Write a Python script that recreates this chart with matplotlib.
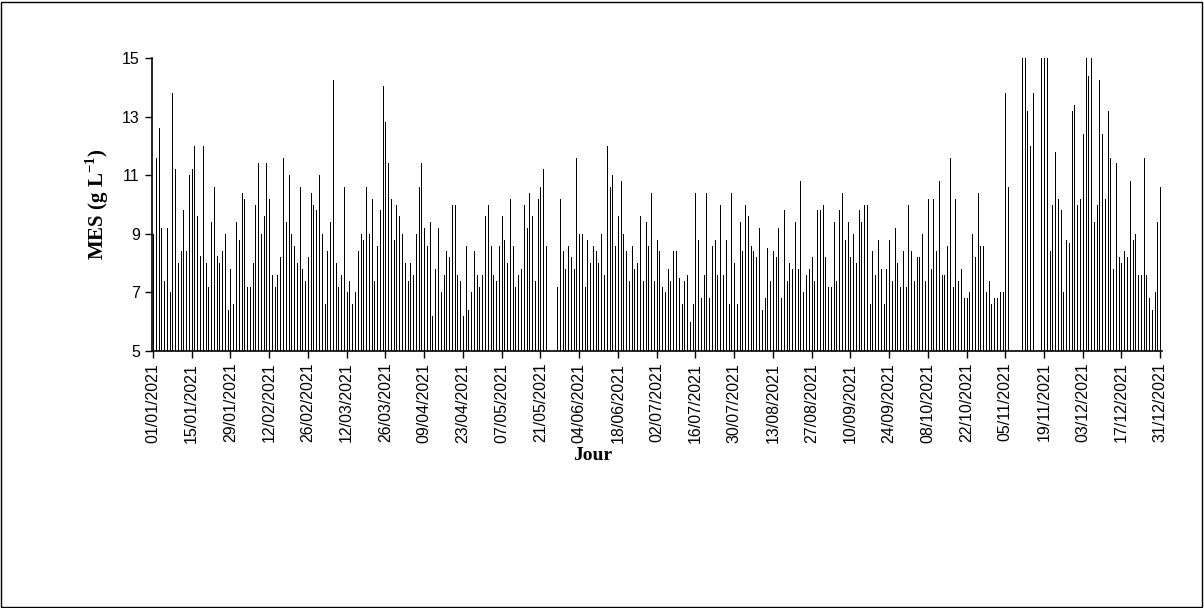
import matplotlib
matplotlib.use('Agg')
import matplotlib.pyplot as plt
import matplotlib.patches as mpatches
import numpy as np
import pandas as pd

# daily suspended matter (MES), g/L -- nan = no measurement
jan_feb = [9.0, 11.6, 12.6, 9.2, 7.4, 9.2, 7.0, 13.8, 11.2, 8.0,
           8.4, 9.8, 8.4, 11.0, 11.2, 12.0, 9.6, 8.25, 12.0, 8.0,
           7.2, 9.4, 10.6, 8.25, 8.0, 8.4, 9.0, 6.4, 7.8, 6.6,
           9.4, 8.8, 10.4, 10.2, 7.2, 7.2, 8.0, 10.0, 11.4, 9.0,
           9.6, 11.4, 10.2, 7.6, 7.2, 7.6, 8.2, 11.6, 9.4, 11.0,
           9.0, 8.6, 8.0, 10.6, 7.8, 7.4, 8.2, 10.4, 10.0, 9.8, 11.0]
mar_apr = [9.0, 6.6, 8.4, 9.4, 14.25, 8.0, 7.2, 7.6, 10.6, 7.0,
           7.4, 6.6, 7.0, 8.4, 9.0, 8.8, 10.6, 9.0, 10.2, 7.4,
           8.6, 9.8, 14.05, 12.8, 11.4, 10.2, 8.8, 10.0, 9.6, 9.0, 8.0,
           7.4, 8.0, 7.6, 9.0, 10.6, 11.4, 9.2, 8.6, 9.4, 6.2,
           7.8, 9.2, 7.0, 7.6, 8.4, 8.2, 10.0, 10.0, 7.6, 7.4,
           6.2, 8.6, 6.4, 7.0, 8.4, 7.6, 7.2, 7.6, 9.6, 10.0, 8.6]
may_jun = [7.6, 7.4, 8.6, 9.6, 8.8, 8.0, 10.2, 8.6, 7.2, 7.6,
           7.8, 10.0, 9.2, 10.4, 9.6, 7.4, 10.2, 10.6, 11.2, 8.6,
           np.nan, np.nan, np.nan, 7.2, 10.2, 8.4, 7.8, 8.6, 8.2, 7.8, 11.6,
           9.0, 9.0, 7.2, 8.8, 8.0, 8.6, 8.4, 8.0, 9.0, 7.6,
           12.0, 10.6, 11.0, 8.6, 9.6, 10.8, 9.0, 8.4, 7.4, 8.6,
           7.8, 8.0, 9.6, 7.4, 9.4, 8.6, 10.4, 7.4, 8.8, 8.4, 7.2]
jul_aug = [7.0, 7.8, 7.4, 8.4, 8.4, 7.5, 6.6, 7.4, 7.6, 6.0,
           6.6, 10.4, 8.8, 6.8, 7.6, 10.4, 6.8, 8.6, 8.8, 7.6,
           10.0, 7.6, 8.8, 6.6, 10.4, 8.0, 6.6, 9.4, 8.4, 10.0, 9.6,
           8.6, 8.4, 8.2, 9.2, 6.4, 6.8, 8.5, 7.4, 8.4, 8.2,
           9.2, 6.8, 9.8, 7.4, 8.0, 7.8, 9.4, 7.8, 10.8, 7.0,
           7.6, 7.8, 8.2, 7.4, 9.8, 9.8, 10.0, 8.2, 7.2, 7.2, 9.4]
sep_oct = [7.4, 9.8, 10.4, 8.8, 9.4, 8.2, 9.0, 8.0, 9.8, 9.4,
           10.0, 10.0, 6.6, 8.4, 7.6, 8.8, 7.8, 6.6, 7.8, 8.8,
           7.4, 9.2, 8.0, 7.2, 8.4, 7.2, 10.0, 8.4, 7.4, 8.2,
           8.2, 9.0, 7.4, 10.2, 7.8, 10.2, 8.4, 10.8, 7.6, 7.6, 8.6,
           11.6, 7.2, 10.2, 7.4, 7.8, 6.8, 6.8, 7.0, 9.0, 8.2,
           10.4, 8.6, 8.6, 7.0, 7.4, 6.6, 6.8, 6.8, 7.0, 7.0, 13.8]
nov_dec = [10.6, np.nan, np.nan, np.nan, np.nan, 15.5, 15.5, 13.2, 12.0, 13.8,
           np.nan, np.nan, 15.5, 15.5, 15.5, 8.4, 10.0, 11.8, 10.2, 9.8,
           7.0, 8.8, 8.7, 13.2, 13.4, 10.0, 10.2, 12.4, 15.5, 14.4,
           15.5, 9.4, 10.0, 14.25, 12.4, 10.2, 13.2, 11.6, 7.8, 11.4,
           8.2, 8.0, 8.4, 8.2, 10.8, 8.8, 9.0, 7.6, 7.6, 11.6,
           7.6, 6.8, 6.4, 7.0, 9.4, 10.6]

mes = np.array(jan_feb + mar_apr + may_jun + jul_aug + sep_oct + nov_dec)
days = pd.date_range('2021-01-01', '2021-12-31', freq='D')
x = np.arange(len(days))

plt.rcParams['font.family'] = ['Liberation Sans', 'DejaVu Sans']
plt.rcParams['mathtext.fontset'] = 'custom'
plt.rcParams['mathtext.bf'] = 'Liberation Serif:bold'
plt.rcParams['mathtext.rm'] = 'Liberation Serif:bold'

fig = plt.figure(figsize=(12.04, 6.08), dpi=100)
ax = fig.add_axes([0.1259, 0.4227, 0.8389, 0.4819])

# one thin column per day, drawn as 1 px lines so they all look alike
ok = ~np.isnan(mes)
ax.vlines(x[ok], 0, mes[ok], colors='black', linewidth=0.72, antialiased=False)

ax.set_ylim(5, 15)
ax.set_yticks([5, 7, 9, 11, 13, 15])
ax.set_xlim(-0.5, len(days) - 0.5)

tick_idx = x[::14]
ax.set_xticks(tick_idx)
ax.set_xticklabels([days[i].strftime('%d/%m/%Y') for i in tick_idx], rotation=90)

ax.tick_params(axis='both', direction='out', length=5, width=1, labelsize=11.5, color='black')
for side in ['top', 'right']:
    ax.spines[side].set_visible(False)
for side in ['left', 'bottom']:
    ax.spines[side].set_linewidth(1.2)

fig.text(97 / 1204, 1 - 204 / 608, r'MES (g L$^{\mathbf{-1}}$)', rotation=90,
         ha='center', va='center', fontsize=15, fontweight='bold',
         family='Liberation Serif')
fig.text(593 / 1204, 1 - 455 / 608, 'Jour', ha='center', va='center',
         fontsize=14, fontweight='bold', family='Liberation Serif')

# frame around the whole figure
fig.patches.append(mpatches.Rectangle((0.001, 0.002), 0.997, 0.995, fill=False,
                                      edgecolor='black', linewidth=1,
                                      transform=fig.transFigure, figure=fig))

fig.savefig('out.png', dpi=100)
